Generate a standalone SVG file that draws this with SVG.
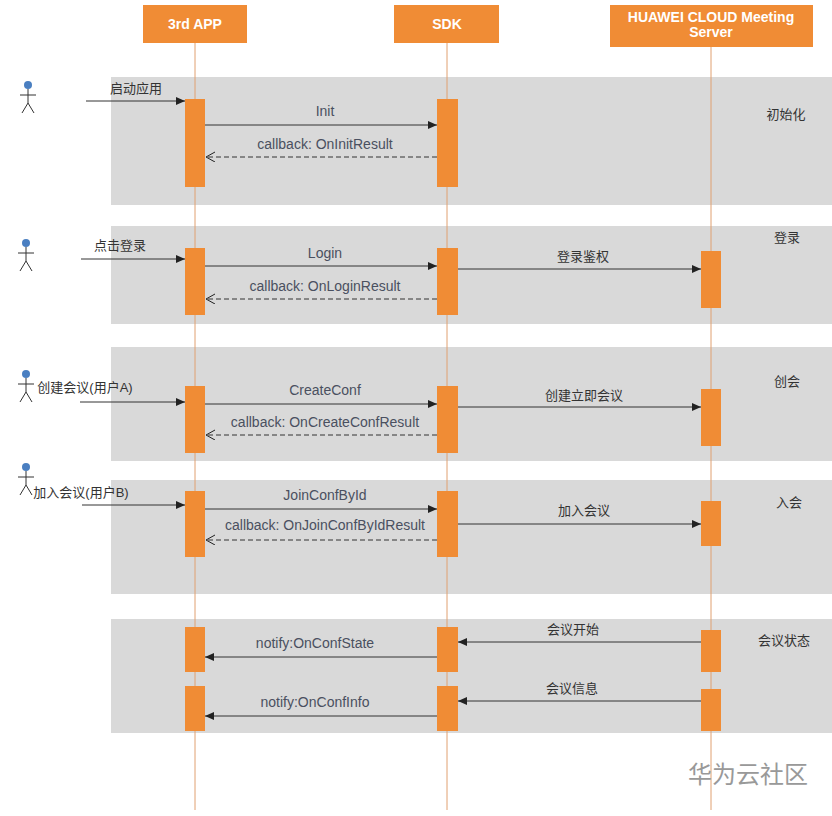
<svg xmlns="http://www.w3.org/2000/svg" width="832" height="816" viewBox="0 0 832 816">
<style>
text{font-family:"Liberation Sans","Noto Sans CJK SC",sans-serif;font-size:13px;fill:#333}
.hd{fill:#f08c35}
.ht{fill:#fff;font-size:14px;text-anchor:middle;font-weight:bold}
.band{fill:#d9d9d9}
.act{fill:#f08c35}
.life{stroke:#e0a070;stroke-width:1}
.m{stroke:#333;stroke-width:1;fill:none;marker-end:url(#a)}
.r{stroke:#333;stroke-width:1;fill:none;stroke-dasharray:5,3;marker-end:url(#o)}
.l{text-anchor:middle;font-size:14px;fill:#4a5060}
.t{text-anchor:middle}
.actor{stroke:#333;stroke-width:1;fill:none}
</style>
<defs>
<marker id="a" markerWidth="10" markerHeight="10" refX="9" refY="4" orient="auto" markerUnits="userSpaceOnUse"><path d="M0,0L9,4L0,8z" fill="#222"/></marker>
<marker id="o" markerWidth="10" markerHeight="12" refX="9" refY="5" orient="auto" markerUnits="userSpaceOnUse"><path d="M0,0L9,5L0,10" fill="none" stroke="#222"/></marker>
<g id="actorSym"><circle cx="0" cy="0" r="4" fill="#4a7fc1"/><path class="actor" d="M0,4V18M-8,10H8M0,18L-6,28M0,18L6,28"/></g>
</defs>
<rect width="832" height="816" fill="#fff"/>
<g id="bands">
<rect class="band" x="111" y="77" width="721" height="128"/>
<rect class="band" x="111" y="226" width="721" height="98"/>
<rect class="band" x="111" y="347" width="721" height="114"/>
<rect class="band" x="111" y="480" width="721" height="114"/>
<rect class="band" x="111" y="619" width="721" height="114"/>
<text x="786" y="119" class="t">初始化</text>
<text x="787" y="242" class="t">登录</text>
<text x="787" y="386" class="t">创会</text>
<text x="789" y="507" class="t">入会</text>
<text x="784" y="645" class="t">会议状态</text>
</g>
<g id="app"><rect class="hd" x="143" y="5" width="104" height="38"/><text class="ht" x="195" y="29">3rd APP</text><line class="life" x1="195" y1="43" x2="195" y2="810"/>
<rect class="act" x="185" y="99" width="20" height="88"/><rect class="act" x="185" y="248" width="20" height="67"/><rect class="act" x="185" y="386" width="20" height="67"/><rect class="act" x="185" y="491" width="20" height="66"/><rect class="act" x="185" y="627" width="20" height="45"/><rect class="act" x="185" y="686" width="20" height="45"/></g>
<g id="sdk"><rect class="hd" x="394" y="5" width="105" height="38"/><text class="ht" x="447" y="29">SDK</text><line class="life" x1="447" y1="43" x2="447" y2="810"/>
<rect class="act" x="437" y="99" width="21" height="88"/><rect class="act" x="437" y="248" width="21" height="67"/><rect class="act" x="437" y="386" width="21" height="67"/><rect class="act" x="437" y="491" width="21" height="66"/><rect class="act" x="437" y="627" width="21" height="45"/><rect class="act" x="437" y="686" width="21" height="45"/></g>
<g id="server"><rect class="hd" x="610" y="5" width="203" height="42"/><text class="ht" x="711" y="22">HUAWEI CLOUD Meeting</text><text class="ht" x="711" y="37">Server</text><line class="life" x1="711" y1="47" x2="711" y2="810"/>
<rect class="act" x="701" y="251" width="20" height="57"/><rect class="act" x="701" y="389" width="20" height="57"/><rect class="act" x="701" y="501" width="20" height="45"/><rect class="act" x="701" y="630" width="20" height="42"/><rect class="act" x="701" y="689" width="20" height="42"/></g>
<g id="actors">
<use href="#actorSym" x="28" y="85"/><use href="#actorSym" x="26" y="243"/><use href="#actorSym" x="26" y="374"/><use href="#actorSym" x="26" y="467"/>
</g>
<g id="connectors">
<line class="m" x1="86" y1="101" x2="185" y2="101"/><text x="110" y="93">启动应用</text>
<line class="m" x1="205" y1="125" x2="437" y2="125"/><text x="325" y="116" class="l">Init</text>
<line class="r" x1="437" y1="157" x2="206" y2="157"/><text x="325" y="149" class="l">callback: OnInitResult</text>
<line class="m" x1="81" y1="259" x2="185" y2="259"/><text x="120" y="250" class="t">点击登录</text>
<line class="m" x1="205" y1="266" x2="437" y2="266"/><text x="325" y="258" class="l">Login</text>
<line class="m" x1="458" y1="269" x2="701" y2="269"/><text x="583" y="261" class="t">登录鉴权</text>
<line class="r" x1="437" y1="299" x2="206" y2="299"/><text x="325" y="291" class="l">callback: OnLoginResult</text>
<line class="m" x1="80" y1="402" x2="185" y2="402"/><text x="85" y="392" class="t">创建会议(用户A)</text>
<line class="m" x1="205" y1="404" x2="437" y2="404"/><text x="325" y="395" class="l">CreateConf</text>
<line class="m" x1="458" y1="407" x2="701" y2="407"/><text x="584" y="400" class="t">创建立即会议</text>
<line class="r" x1="437" y1="435" x2="206" y2="435"/><text x="325" y="427" class="l">callback: OnCreateConfResult</text>
<line class="m" x1="82" y1="505" x2="185" y2="505"/><text x="81" y="497" class="t">加入会议(用户B)</text>
<line class="m" x1="205" y1="509" x2="437" y2="509"/><text x="325" y="500" class="l">JoinConfById</text>
<line class="m" x1="458" y1="524" x2="701" y2="524"/><text x="584" y="515" class="t">加入会议</text>
<line class="r" x1="437" y1="540" x2="206" y2="540"/><text x="325" y="530" class="l">callback: OnJoinConfByIdResult</text>
<line class="m" x1="701" y1="642" x2="458" y2="642"/><text x="573" y="634" class="t">会议开始</text>
<line class="m" x1="437" y1="657" x2="205" y2="657"/><text x="315" y="648" class="l">notify:OnConfState</text>
<line class="m" x1="701" y1="701" x2="458" y2="701"/><text x="572" y="693" class="t">会议信息</text>
<line class="m" x1="437" y1="716" x2="205" y2="716"/><text x="315" y="707" class="l">notify:OnConfInfo</text>
</g>
<text x="748" y="783" class="t" style="font-size:24px;fill:#999">华为云社区</text>
</svg>
